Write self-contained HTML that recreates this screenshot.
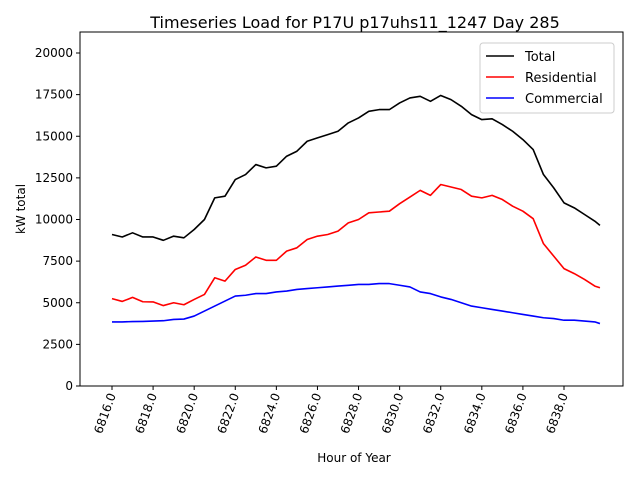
<!DOCTYPE html>
<html><head><meta charset="utf-8"><style>
body{margin:0;background:#fff;font-family:"DejaVu Sans","Liberation Sans",sans-serif}
svg text{font-family:"DejaVu Sans","Liberation Sans",sans-serif}
</style></head><body>
<svg id="chart" width="640" height="480">
<rect width="640" height="480" fill="#fff"/>
<text x="355" y="28" text-anchor="middle" font-size="16">Timeseries Load for P17U p17uhs11_1247  Day 285</text>
<g id="plot"></g>
<text x="0" y="0" transform="translate(25,209) rotate(-90)" text-anchor="middle" font-size="12">kW total</text>
<text x="354" y="462" text-anchor="middle" font-size="12">Hour of Year</text>
</svg>
<script>
const hours=[6816,6816.5,6817,6817.5,6818,6818.5,6819,6819.5,6820,6820.5,6821,6821.5,6822,6822.5,6823,6823.5,6824,6824.5,6825,6825.5,6826,6826.5,6827,6827.5,6828,6828.5,6829,6829.5,6830,6830.5,6831,6831.5,6832,6832.5,6833,6833.5,6834,6834.5,6835,6835.5,6836,6836.5,6837,6837.5,6838,6838.5,6839,6839.5,6839.75];
const total=[9100,8950,9200,8950,8950,8750,9000,8900,9400,10000,11300,11400,12400,12700,13300,13100,13200,13800,14100,14700,14900,15100,15300,15800,16100,16500,16600,16600,17000,17300,17400,17100,17450,17200,16800,16300,16000,16050,15700,15300,14800,14200,12700,11900,11000,10700,10300,9900,9650];
const residential=[5250,5080,5320,5060,5050,4830,5000,4880,5200,5500,6500,6300,7000,7250,7750,7550,7550,8100,8300,8800,9000,9100,9300,9800,10000,10400,10450,10500,10950,11350,11750,11450,12100,11950,11800,11400,11300,11450,11200,10800,10500,10050,8550,7800,7050,6750,6400,6000,5900];
const commercial=[3850,3850,3870,3880,3900,3920,4000,4020,4200,4500,4800,5100,5400,5450,5550,5550,5650,5700,5800,5850,5900,5950,6000,6050,6100,6100,6150,6150,6050,5950,5650,5550,5350,5200,5000,4800,4700,4600,4500,4400,4300,4200,4100,4050,3950,3950,3900,3850,3750];
const yTicks=[0,2500,5000,7500,10000,12500,15000,17500,20000];
const xTicks=[6816,6818,6820,6822,6824,6826,6828,6830,6832,6834,6836,6838];
const L=80,R=623,T=32,B=386;
const X=h=>112+(h-6816)*(564-112)/22;
const Y=v=>B-v*(B-53)/20000;
const g=document.getElementById('plot');
const NS='http://www.w3.org/2000/svg';
function mk(t,a){const e=document.createElementNS(NS,t);for(const k in a)e.setAttribute(k,a[k]);g.appendChild(e);return e;}
yTicks.forEach(v=>{
 const l=mk('line',{x1:L-4,x2:L,y1:Y(v),y2:Y(v),stroke:'#000'});
 
 
 const t=mk('text',{x:L-7,y:Y(v)+4,'text-anchor':'end','font-size':12});
 t.textContent=v;
 
 
});
xTicks.forEach(h=>{
 const l=mk('line',{x1:X(h),x2:X(h),y1:B,y2:B+4,stroke:'#000'});
 
 
 const t=mk('text',{x:0,y:0,'text-anchor':'end','font-size':12,transform:`translate(${X(h)+4},${B+9}) rotate(-70)`});
 t.textContent=h.toFixed(1);
 
 
});
[[total,'#000','total-line'],[residential,'#f00','residential-line'],[commercial,'#00f','commercial-line']].forEach(([s,c,n])=>{
 const p=mk('polyline',{points:s.map((v,i)=>X(hours[i])+','+Y(v)).join(' '),fill:'none',stroke:c,'stroke-width':1.6,'stroke-linejoin':'round'});
 
 
});
const fr=mk('rect',{x:L,y:T,width:R-L,height:B-T,fill:'none',stroke:'#000','stroke-width':1});


const lg=mk('rect',{x:480,y:43,width:134,height:70,rx:3,fill:'#fff',stroke:'#ccc'});


[['Total','#000'],['Residential','#f00'],['Commercial','#00f']].forEach(([n,c],i)=>{
 const y=56+i*21;
 const l=mk('line',{x1:486,x2:514,y1:y,y2:y,stroke:c,'stroke-width':1.6});
 
 
 const t=mk('text',{x:525,y:y+5,'font-size':13});
 t.textContent=n;
 
 
});
</script>
</body></html>
